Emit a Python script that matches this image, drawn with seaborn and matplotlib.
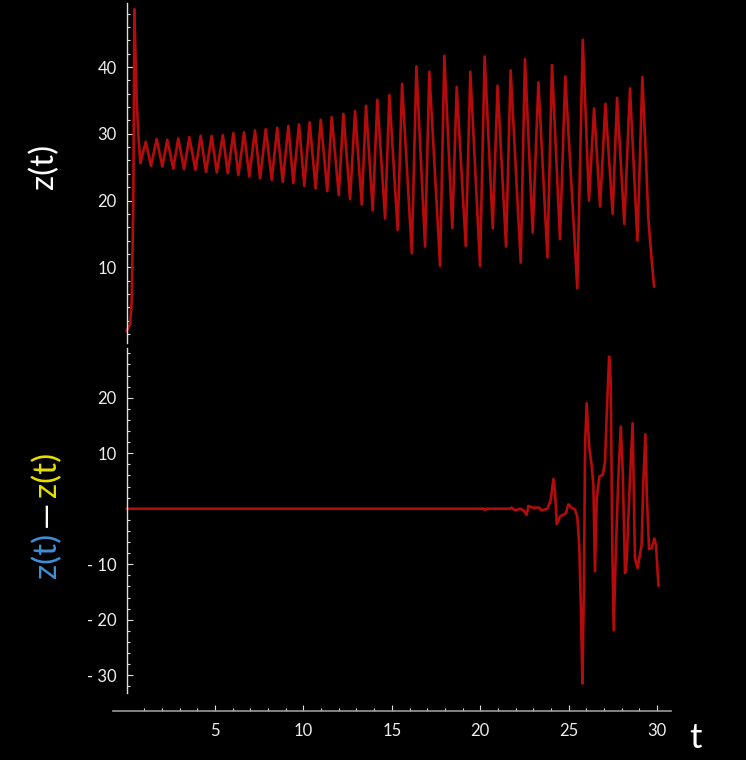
import numpy as np
import pandas as pd
import matplotlib
matplotlib.use("Agg")
import matplotlib.pyplot as plt
from matplotlib.ticker import MultipleLocator, FixedLocator, FuncFormatter
import seaborn as sns

# z(t): start-up transient, then peaks and troughs
t_top = [0.0, 0.2, 0.29, 0.38, 0.44, 0.52, 0.57, 0.66, 0.78,
         1.08, 1.38, 1.70, 2.02, 2.30, 2.64, 2.92, 3.25, 3.55, 3.89,
         4.19, 4.49, 4.81, 5.10, 5.44, 5.72, 6.04, 6.32, 6.64, 6.94,
         7.26, 7.55, 7.87, 8.21, 8.52, 8.83, 9.15, 9.43, 9.75, 10.05,
         10.35, 10.69, 10.98, 11.35, 11.60, 12.00, 12.26, 12.64, 12.92, 13.30,
         13.54, 13.92, 14.18, 14.62, 14.86, 15.33, 15.58, 16.13, 16.39, 16.88,
         17.12, 17.73, 17.97, 18.42, 18.67, 19.18, 19.44, 19.99, 20.25, 20.71,
         20.98, 21.46, 21.72, 22.29, 22.53, 22.97, 23.29, 23.80, 24.06, 24.51,
         24.81, 25.49, 25.80, 26.15, 26.44, 26.78, 27.08, 27.49, 27.74, 28.15,
         28.47, 28.89, 29.17, 29.40, 29.50, 29.68, 29.83]
z_top = [0.4, 1.5, 5.0, 20.0, 48.7, 40.0, 35.0, 30.0, 25.6,
         28.8, 25.2, 29.2, 25.1, 29.1, 24.8, 29.3, 24.7, 29.5, 24.6,
         29.7, 24.3, 29.7, 24.2, 29.8, 24.1, 30.1, 23.8, 30.2, 23.6,
         30.5, 23.3, 30.7, 23.1, 30.9, 22.8, 31.2, 22.6, 31.4, 22.2,
         31.7, 21.8, 32.1, 21.4, 32.5, 20.8, 33.0, 20.2, 33.4, 19.4,
         34.2, 18.5, 35.1, 17.3, 35.8, 15.6, 37.5, 12.1, 40.1, 13.1,
         39.3, 10.2, 41.7, 15.9, 37.0, 13.2, 39.3, 10.2, 41.6, 15.8,
         37.2, 13.1, 39.5, 10.7, 41.2, 15.2, 37.7, 11.5, 40.3, 14.2,
         38.6, 6.85, 44.1, 20.0, 33.8, 19.1, 34.5, 18.0, 35.4, 16.5,
         36.8, 14.0, 38.5, 24.6, 17.6, 11.6, 7.1]

# difference of the two runs, bottom panel
t_diff = [0.0, 20.2, 20.27, 20.35, 21.7, 21.78, 21.97, 22.25, 22.44, 22.63,
          22.72, 22.95, 23.33, 23.48, 23.80, 23.99, 24.14, 24.23, 24.33, 24.51,
          24.74, 24.85, 24.98, 25.17, 25.36, 25.49, 25.60, 25.70, 25.78, 25.87,
          25.93, 26.02, 26.17, 26.30, 26.40, 26.49, 26.59, 26.74, 26.93, 27.06,
          27.16, 27.29, 27.38, 27.47, 27.55, 27.68, 27.81, 27.95, 28.06, 28.19,
          28.28, 28.47, 28.62, 28.75, 28.90, 29.13, 29.22, 29.34, 29.42, 29.55,
          29.70, 29.85, 29.94, 30.08]
d_diff = [0.0, 0.0, -0.25, 0.0, 0.0, 0.2, -0.3, 0.0, -0.3, -1.1,
          0.5, 0.2, 0.2, -0.3, 0.0, 1.6, 5.35, 3.1, -2.8, -1.4,
          -1.0, -0.8, 0.8, 0.2, -0.2, -1.4, -6.5, -18.6, -31.5, -12.5,
          11.5, 19.0, 10.9, 7.9, 4.3, -11.3, 1.9, 5.8, 6.1, 8.5,
          17.5, 27.4, 22.9, -6.5, -21.9, -6.5, 5.5, 14.8, 6.7, -11.6,
          -9.5, 5.5, 15.4, -8.9, -10.7, -6.5, 4.3, 13.4, 2.5, -7.3,
          -7.1, -5.4, -6.5, -13.9]

top_yticks = [10, 20, 30, 40]
bot_yticks = [-30, -20, -10, 10, 20]
x_ticks = [5, 10, 15, 20, 25, 30]

sns.set_style("dark")
plt.rcParams['font.family'] = ['Lato', 'DejaVu Sans']

red = '#b40c0c'
W, H = 746, 760

fig = plt.figure(figsize=(W / 100, H / 100), dpi=100, facecolor='black')
ax_top = fig.add_axes([113 / W, 1 - 343 / H, 558 / W, 340 / H])
ax_bot = fig.add_axes([113 / W, 1 - 692.7 / H, 558 / W, 344.7 / H])

df_top = pd.DataFrame({'t': t_top, 'z': z_top})
df_bot = pd.DataFrame({'t': t_diff, 'd': d_diff})
sns.lineplot(data=df_top, x='t', y='z', ax=ax_top, color=red, linewidth=1.9,
             estimator=None, solid_joinstyle='round')
sns.lineplot(data=df_bot, x='t', y='d', ax=ax_bot, color=red, linewidth=1.9,
             estimator=None, solid_joinstyle='round')

def fmt(v, pos):
    v = int(round(v))
    return f"- {abs(v)}" if v < 0 else f"{v}"

for ax in (ax_top, ax_bot):
    ax.set_facecolor('black')
    ax.grid(False)
    ax.set_xlim(-0.77, 30.79)
    ax.set_xlabel('')
    ax.set_ylabel('')
    for s in ('top', 'right'):
        ax.spines[s].set_visible(False)
    ax.spines['left'].set_position(('data', 0))
    ax.spines['left'].set_color('#dddddd')
    ax.spines['left'].set_linewidth(1.0)
    ax.yaxis.set_major_formatter(FuncFormatter(fmt))
    ax.yaxis.set_minor_locator(MultipleLocator(2))
    ax.tick_params(axis='y', which='both', direction='in', colors='#dddddd',
                   labelcolor='#eeeeee', labelsize=12, pad=7, width=0.8, left=True)
    ax.tick_params(axis='y', which='major', length=4)
    ax.tick_params(axis='y', which='minor', length=2)

ax_top.set_ylim(-1.35, 49.6)
ax_top.yaxis.set_major_locator(FixedLocator(top_yticks))
ax_top.spines['bottom'].set_visible(False)
ax_top.tick_params(axis='x', which='both', bottom=False, labelbottom=False)

ax_bot.set_ylim(-33.15, 28.96)
ax_bot.yaxis.set_major_locator(FixedLocator(bot_yticks))
ax_bot.spines['bottom'].set_position(('outward', 12.96))
ax_bot.spines['bottom'].set_color('#9a9a9a')
ax_bot.spines['bottom'].set_linewidth(1.2)
ax_bot.xaxis.set_major_locator(FixedLocator(x_ticks))
ax_bot.xaxis.set_minor_locator(FixedLocator(list(range(1, 31))))
ax_bot.xaxis.set_major_formatter(FuncFormatter(fmt))
ax_bot.tick_params(axis='x', which='both', direction='in', colors='#dddddd',
                   labelcolor='#eeeeee', labelsize=12, pad=9, width=0.8, bottom=True)
ax_bot.tick_params(axis='x', which='major', length=4)
ax_bot.tick_params(axis='x', which='minor', length=2)

# axis labels
fig.text(44 / W, 1 - 166 / H, 'z(t)', color='white', fontsize=24,
         rotation=90, ha='center', va='center')
fig.text(47 / W, 1 - 555 / H, 'z(t)', color='#3f8fd8', fontsize=24,
         rotation=90, ha='center', va='center')
fig.text(47 / W, 1 - 514 / H, '\u2014', color='white', fontsize=24,
         rotation=90, ha='center', va='center')
fig.text(47 / W, 1 - 474 / H, 'z(t)', color='#e6e000', fontsize=24,
         rotation=90, ha='center', va='center')
fig.text(695 / W, 1 - 738 / H, 't', color='white', fontsize=25,
         ha='center', va='center')

fig.savefig('out.png', dpi=100, facecolor='black')
